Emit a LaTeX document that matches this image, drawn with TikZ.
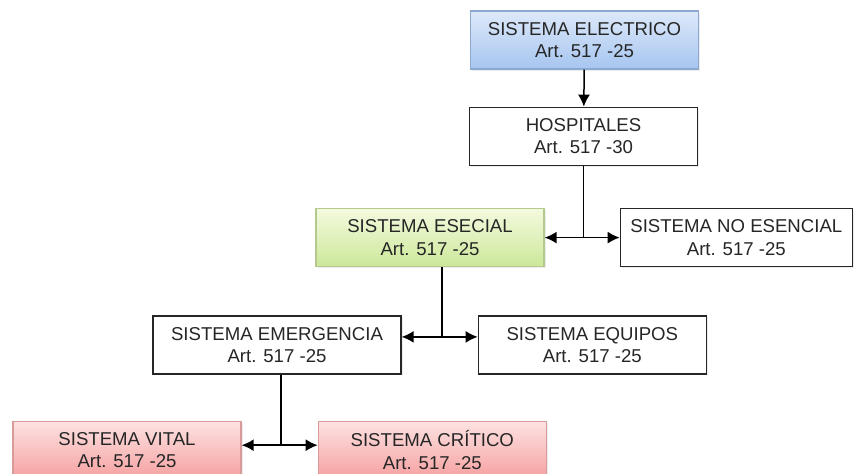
\documentclass[tikz,border=0pt]{standalone}
\usepackage{fontspec}
\setmainfont{Liberation Sans}
\usepackage{tikz}
\usetikzlibrary{arrows, arrows.meta, positioning, shadows}
\definecolor{bluetop}{HTML}{DDE9FA}
\definecolor{bluebottom}{HTML}{A6C5F0}
\definecolor{blueline}{HTML}{8EA9CF}
\definecolor{greentop}{HTML}{F4FADF}
\definecolor{greenbottom}{HTML}{CCE899}
\definecolor{greenline}{HTML}{B5C98E}
\definecolor{redtop}{HTML}{FDE2E2}
\definecolor{redbottom}{HTML}{F6A0A0}
\definecolor{redline}{HTML}{D99A9A}
\definecolor{textgray}{HTML}{262626}
\tikzstyle{plain}=[rectangle, minimum width=114pt, minimum height=29pt, inner xsep=4pt, align=center, draw=black!85, line width=0.65pt, fill=white, text=textgray, font=\fontsize{9.3pt}{11.3pt}\selectfont, drop shadow={opacity=0.15, shadow xshift=0.8pt, shadow yshift=-0.8pt}]
\tikzstyle{electric}=[plain, draw=blueline, top color=bluetop, bottom color=bluebottom]
\tikzstyle{essential}=[plain, draw=greenline, top color=greentop, bottom color=greenbottom]
\tikzstyle{lifeline}=[plain, draw=redline, top color=redtop, bottom color=redbottom]
\tikzstyle{link}=[line width=0.75pt]
\tikzstyle{arrow}=[line width=0.75pt, -{Latex[length=6pt,width=6pt]}]
\tikzstyle{arrow'}=[line width=0.75pt, {Latex[length=6pt,width=6pt]}-{Latex[length=6pt,width=6pt]}]
\begin{document}
\begin{tikzpicture}[node distance=22pt]
		\useasboundingbox (0,0) rectangle (427pt,-237pt);
		\node(electrico)[electric] at (292.25pt,-20pt){SISTEMA ELECTRICO\\Art. 517 -25};
		\node(hospitales)[plain, below=18.5pt of electrico, xshift=-0.5pt]{HOSPITALES\\Art. 517 -30};
		
		\node(esencial)[essential, below=21pt of hospitales, xshift=-76.75pt]{SISTEMA ESECIAL\\Art. 517 -25};
		\node(noesencial)[plain, right=37.5pt of esencial, minimum width=116pt]{SISTEMA NO ESENCIAL\\Art. 517 -25};
		
		\node(emergencia)[plain, below=24pt of esencial, xshift=-76.5pt, minimum width=124pt]{SISTEMA EMERGENCIA\\Art. 517 -25};
		\node(equipos)[plain, right=38pt of emergencia]{SISTEMA EQUIPOS\\Art. 517 -25};
		
		\node(vital)[lifeline, below=23pt of emergencia, xshift=-75pt]{SISTEMA VITAL\\Art. 517 -25};
		\node(critico)[lifeline, right=38pt of vital]{SISTEMA CRÍTICO\\Art. 517 -25};
		
		\draw[arrow](electrico)--(hospitales);
		
		\draw[arrow'](esencial)--(noesencial);
		\coordinate (hub1) at (hospitales.south |- esencial.east);
		\draw[link](hospitales.south)--(hub1);
		
		\draw[arrow']([yshift=4pt]emergencia.east) coordinate (hub2) -- ([yshift=4pt]equipos.west);
		\draw[link]([xshift=6pt]esencial.south) coordinate (drop2) -- (drop2 |- hub2);
		
		\draw[arrow']([yshift=2.5pt]vital.east) coordinate (hub3) -- ([yshift=2.5pt]critico.west);
		\draw[link]([xshift=2pt]emergencia.south) coordinate (drop3) -- (drop3 |- hub3);
	\end{tikzpicture}
\end{document}
